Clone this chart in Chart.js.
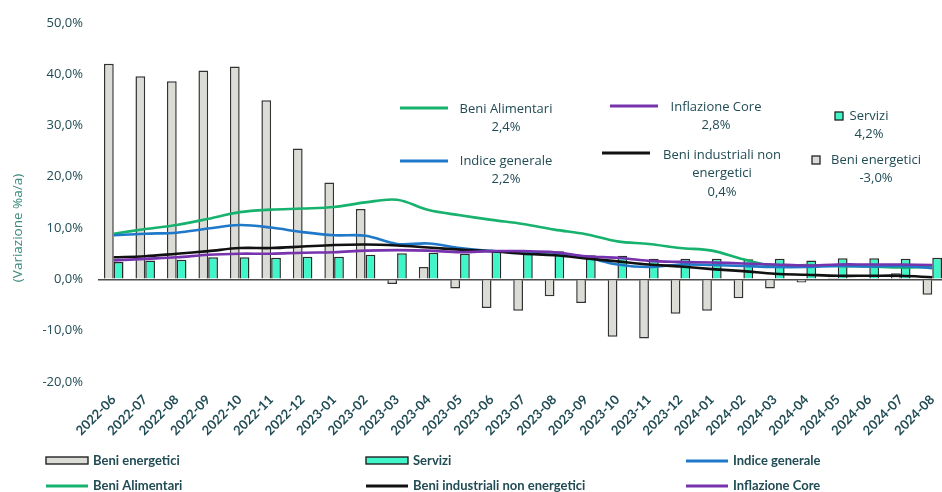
<!DOCTYPE html>
<html>
<head>
<meta charset="utf-8">
<script src="https://cdn.jsdelivr.net/npm/chart.js@4.4.1/dist/chart.umd.min.js"></script>
<style>
  html, body { margin: 0; padding: 0; background: #ffffff; }
  #wrap { width: 942px; height: 492px; position: relative; overflow: hidden; }
  #c { display: block; }
</style>
</head>
<body>
<div id="wrap"><canvas id="c" width="948" height="492"></canvas></div>
<script>
// Months (year-on-year change, %)
const months = [
  '2022-06','2022-07','2022-08','2022-09','2022-10','2022-11','2022-12',
  '2023-01','2023-02','2023-03','2023-04','2023-05','2023-06','2023-07',
  '2023-08','2023-09','2023-10','2023-11','2023-12','2024-01','2024-02',
  '2024-03','2024-04','2024-05','2024-06','2024-07','2024-08'
];

const beniEnergetici = [
  42.0, 39.6, 38.6, 40.7, 41.5, 34.9, 25.5, 18.9, 13.7, -0.9, 2.4, -1.8, -5.6, -6.1,
  -3.3, -4.6, -11.2, -11.5, -6.7, -6.1, -3.7, -1.8, -0.6, 0.3, 0.2, 1.2, -3.0
];

const servizi = [
  3.4, 3.7, 3.8, 4.3, 4.3, 4.2, 4.4, 4.4, 4.8, 5.1, 5.2, 5.0, 5.4, 5.6,
  5.5, 4.7, 4.6, 4.0, 4.0, 4.0, 3.9, 4.0, 3.7, 4.1, 4.1, 4.0, 4.2
];

const indiceGenerale = [
  8.6, 8.9, 9.1, 9.9, 10.6, 10.1, 9.2, 8.6, 8.5, 6.9, 7.0, 6.1, 5.5, 5.3,
  5.2, 4.3, 2.9, 2.4, 2.9, 2.8, 2.6, 2.4, 2.4, 2.6, 2.5, 2.6, 2.2
];

const beniAlimentari = [
  8.9, 9.8, 10.6, 11.8, 13.1, 13.6, 13.8, 14.1, 15.0, 15.5, 13.5, 12.5, 11.6, 10.8,
  9.7, 8.8, 7.4, 6.9, 6.1, 5.6, 3.9, 2.6, 2.8, 2.6, 2.5, 2.3, 2.4
];

const beniIndustrialiNonEnergetici = [
  4.3, 4.5, 5.0, 5.5, 6.1, 6.1, 6.4, 6.7, 6.8, 6.6, 6.2, 5.8, 5.5, 5.0,
  4.7, 4.1, 3.5, 2.9, 2.5, 2.0, 1.6, 1.1, 0.9, 0.7, 0.7, 0.7, 0.4
];

const inflazioneCore = [
  3.7, 4.0, 4.3, 4.8, 5.0, 5.0, 5.2, 5.3, 5.6, 5.7, 5.6, 5.3, 5.5, 5.5,
  5.3, 4.5, 4.2, 3.6, 3.4, 3.3, 3.1, 2.9, 2.7, 2.9, 2.9, 2.9, 2.8
];

const yTicks = [-20, -10, 0, 10, 20, 30, 40, 50];

const TEXT = '#214c55';
const COL = {
  energia: '#dcdcd6',
  servizi: '#3ff6c9',
  generale: '#1f78c8',
  alimentari: '#17b26e',
  industriali: '#111111',
  core: '#7633ad'
};

const pct = v => v.toFixed(1).replace('.', ',') + '%';

const lineDs = (label, data, color, order) => ({
  type: 'line', label, data, borderColor: color, backgroundColor: color,
  borderWidth: 2.6, pointRadius: 0, tension: 0.35, order, fill: false
});

// Boxes with the latest value of each series, drawn inside the plot
const callouts = [
  { ds: 3, kind: 'line', sx: 400, sy: 108, lines: ['Beni Alimentari'], cx: 506, ty: 109 },
  { ds: 2, kind: 'line', sx: 400, sy: 161, lines: ['Indice generale'], cx: 506, ty: 161 },
  { ds: 5, kind: 'line', sx: 610, sy: 106, lines: ['Inflazione Core'], cx: 716, ty: 107 },
  { ds: 4, kind: 'line', sx: 602, sy: 153, lines: ['Beni industriali non', 'energetici'], cx: 722, ty: 155 },
  { ds: 1, kind: 'box', sx: 835, sy: 112, lines: ['Servizi'], cx: 869, ty: 116 },
  { ds: 0, kind: 'box', sx: 812, sy: 156, lines: ['Beni energetici'], cx: 876, ty: 160 }
];

const calloutPlugin = {
  id: 'callouts',
  afterDatasetsDraw(chart) {
    const ctx = chart.ctx;
    ctx.save();
    ctx.font = '13px "Open Sans", sans-serif';
    ctx.fillStyle = TEXT;
    ctx.textAlign = 'center';
    ctx.textBaseline = 'middle';
    callouts.forEach(c => {
      const ds = chart.data.datasets[c.ds];
      if (c.kind === 'line') {
        ctx.strokeStyle = ds.borderColor;
        ctx.lineWidth = 3;
        ctx.beginPath();
        ctx.moveTo(c.sx, c.sy);
        ctx.lineTo(c.sx + 48, c.sy);
        ctx.stroke();
      } else {
        ctx.fillStyle = ds.backgroundColor;
        ctx.fillRect(c.sx, c.sy, 8, 8);
        ctx.strokeStyle = '#222';
        ctx.lineWidth = 1.3;
        ctx.strokeRect(c.sx, c.sy, 8, 8);
      }
      ctx.fillStyle = TEXT;
      const rows = c.lines.concat([pct(ds.data[ds.data.length - 1])]);
      rows.forEach((t, i) => ctx.fillText(t, c.cx, c.ty + i * 18.5));
    });
    ctx.restore();
  }
};

// Legend below the axis, laid out on a fixed three-column grid
const legendGrid = [
  { ds: 0, col: 0, row: 0 }, { ds: 1, col: 1, row: 0 }, { ds: 2, col: 2, row: 0 },
  { ds: 3, col: 0, row: 1 }, { ds: 4, col: 1, row: 1 }, { ds: 5, col: 2, row: 1 }
];

const legendPlugin = {
  id: 'gridLegend',
  afterDraw(chart) {
    const ctx = chart.ctx;
    ctx.save();
    ctx.font = 'bold 13px Lato, sans-serif';
    ctx.textBaseline = 'middle';
    ctx.textAlign = 'left';
    legendGrid.forEach(e => {
      const ds = chart.data.datasets[e.ds];
      const x = 46 + e.col * 320;
      const y = 461 + e.row * 25;
      if (ds.type === 'line') {
        ctx.strokeStyle = ds.borderColor;
        ctx.lineWidth = 3;
        ctx.beginPath();
        ctx.moveTo(x, y);
        ctx.lineTo(x + 42, y);
        ctx.stroke();
      } else {
        ctx.fillStyle = ds.backgroundColor;
        ctx.fillRect(x, y - 4, 42, 7);
        ctx.strokeStyle = '#222';
        ctx.lineWidth = 1.4;
        ctx.strokeRect(x, y - 4, 42, 7);
      }
      ctx.fillStyle = TEXT;
      ctx.fillText(ds.label, x + 47, y);
    });
    ctx.restore();
  }
};

// Vertical axis title
const yTitlePlugin = {
  id: 'yTitle',
  afterDraw(chart) {
    const ctx = chart.ctx;
    ctx.save();
    ctx.translate(18, 228);
    ctx.rotate(-Math.PI / 2);
    ctx.font = '13.5px "Open Sans", sans-serif';
    ctx.fillStyle = '#3a8a7b';
    ctx.textAlign = 'center';
    ctx.textBaseline = 'middle';
    ctx.fillText('(Variazione %a/a)', 0, 0);
    ctx.restore();
  }
};

new Chart(document.getElementById('c'), {
  data: {
    labels: months,
    datasets: [
      { type: 'bar', label: 'Beni energetici', data: beniEnergetici,
        backgroundColor: COL.energia, borderColor: '#333333', borderWidth: 1.5, order: 3 },
      { type: 'bar', label: 'Servizi', data: servizi,
        backgroundColor: COL.servizi, borderColor: '#2a2a2a', borderWidth: 1.5, order: 3 },
      lineDs('Indice generale', indiceGenerale, COL.generale, 2),
      lineDs('Beni Alimentari', beniAlimentari, COL.alimentari, 2),
      lineDs('Beni industriali non energetici', beniIndustrialiNonEnergetici, COL.industriali, 1),
      lineDs('Inflazione Core', inflazioneCore, COL.core, 0)
    ]
  },
  options: {
    responsive: false,
    animation: false,
    devicePixelRatio: 1,
    layout: { padding: { top: 20, right: 0, left: 0, bottom: 0 } },
    datasets: { bar: { barPercentage: 1, categoryPercentage: 0.62 } },
    plugins: {
      legend: { display: false },
      tooltip: { enabled: false }
    },
    scales: {
      x: {
        offset: true,
        grid: { display: false },
        border: { display: false },
        ticks: {
          autoSkip: false, maxRotation: 45, minRotation: 45, padding: 2,
          color: TEXT, font: { family: 'Lato', weight: 'bold', size: 13 }
        },
        afterFit(s) { s.height = 110; }
      },
      y: {
        min: -20, max: 50,
        afterBuildTicks(s) { s.ticks = yTicks.map(v => ({ value: v })); },
        grid: {
          drawTicks: false,
          color: c => (c.tick && c.tick.value === 0) ? '#4a4a4a' : 'rgba(0,0,0,0)',
          lineWidth: 1.6
        },
        border: { display: false },
        ticks: {
          padding: 15, color: TEXT,
          font: { family: 'Open Sans', size: 13 },
          callback: v => pct(v)
        },
        afterFit(s) { s.width = 98; }
      }
    }
  },
  plugins: [calloutPlugin, legendPlugin, yTitlePlugin]
});
</script>
</body>
</html>
